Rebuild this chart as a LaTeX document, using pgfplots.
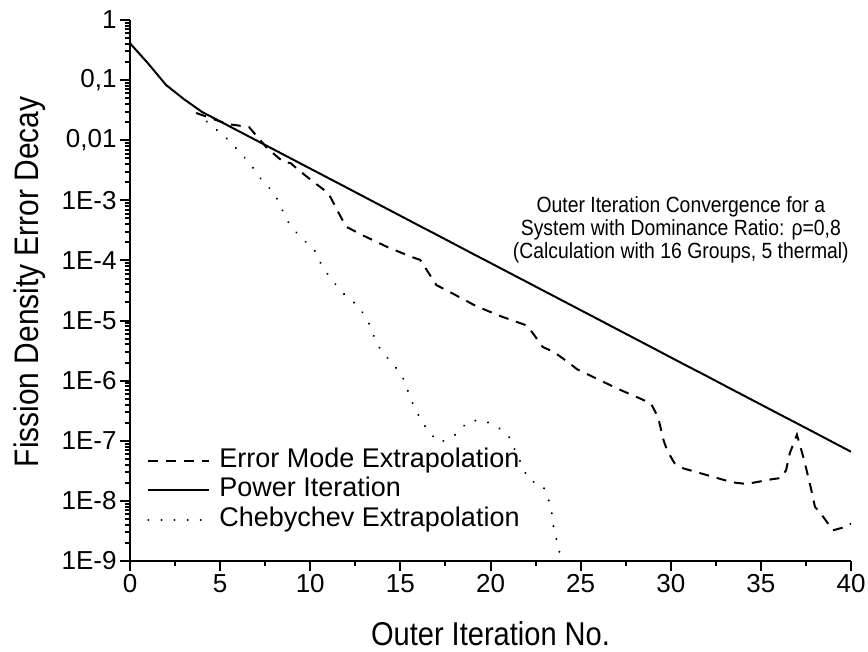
\documentclass[border=0pt]{standalone}
\usepackage{fontspec}
\setmainfont{Liberation Sans}
\newfontfamily\cond[FakeStretch=0.88]{Liberation Sans}
\usepackage{pgfplots}
\pgfplotsset{compat=1.18}
\begin{document}
\begin{tikzpicture}
\begin{axis}[
  scale only axis, width=721pt, height=541pt,
  ymode=log, log basis y=10,
  xmin=0, xmax=40, ymin=1e-9, ymax=1,
  axis x line=bottom, axis y line=left,
  axis line style={-, line width=2.6pt},
  tick align=outside,
  major tick length=10pt, minor tick length=5pt,
  every tick/.style={black, line width=2pt},
  xtick={0,5,...,40}, minor xtick={2.5,7.5,...,37.5},
  ytick={1e-9,1e-8,1e-7,1e-6,1e-5,1e-4,1e-3,1e-2,1e-1,1},
  yticklabels={1E-9,1E-8,1E-7,1E-6,1E-5,1E-4,1E-3,{0,01},{0,1},1},
  minor ytick={2e-9,3e-9,4e-9,5e-9,6e-9,7e-9,8e-9,9e-9,
   2e-8,3e-8,4e-8,5e-8,6e-8,7e-8,8e-8,9e-8,
   2e-7,3e-7,4e-7,5e-7,6e-7,7e-7,8e-7,9e-7,
   2e-6,3e-6,4e-6,5e-6,6e-6,7e-6,8e-6,9e-6,
   2e-5,3e-5,4e-5,5e-5,6e-5,7e-5,8e-5,9e-5,
   2e-4,3e-4,4e-4,5e-4,6e-4,7e-4,8e-4,9e-4,
   2e-3,3e-3,4e-3,5e-3,6e-3,7e-3,8e-3,9e-3,
   2e-2,3e-2,4e-2,5e-2,6e-2,7e-2,8e-2,9e-2,
   2e-1,3e-1,4e-1,5e-1,6e-1,7e-1,8e-1,9e-1},
  /pgf/number format/assume math mode=true,
  tick label style={font=\fontsize{26}{29}\selectfont, text=black},
  xlabel={Outer Iteration No.},
  ylabel={Fission Density Error Decay},
  xlabel style={font=\cond\fontsize{33}{36}\selectfont, at={(rel axis cs:0.5,0)}, anchor=base, yshift=-84pt},
  ylabel style={font=\cond\fontsize{34}{36}\selectfont, at={(rel axis cs:0,0.516)}, anchor=center, yshift=100pt},
  legend style={at={(rel axis cs:0.0236,0.209)}, anchor=north west, draw=none, fill=none,
    font=\fontsize{27}{29}\selectfont, row sep=4.5pt, column sep=9pt, inner sep=0pt,
    nodes={text height=19pt, text depth=6pt, inner sep=0pt}},
  legend cell align=left,
  legend image code/.code={\draw[#1] (0pt,0pt) -- (61pt,0pt);},
  clip=true,
]
\coordinate (bl) at (rel axis cs:0,0);
\coordinate (tr) at (rel axis cs:1,1);

\addplot[black, line width=2pt, dash pattern=on 10pt off 8pt] coordinates {
(3.7,0.0282) (5.4,0.0186) (6.6,0.0166) (7.6,0.00741) (8.5,0.00437) (8.9,0.00417)
(9.7,0.00263) (10.2,0.00200) (11.0,0.00132) (11.3,8.91e-4) (11.7,5.25e-4) (12.0,3.63e-4)
(12.9,2.63e-4) (14.3,1.66e-4) (15.6,1.15e-4) (16.1,1.02e-4) (16.7,5.37e-5) (17.0,3.89e-5)
(17.9,2.82e-5) (19.2,1.74e-5) (20.6,1.17e-5) (21.9,8.51e-6) (22.3,6.46e-6) (22.9,3.63e-6)
(23.5,3.02e-6) (24.3,2.04e-6) (24.8,1.55e-6) (25.7,1.15e-6) (27.1,7.24e-7) (28.4,4.90e-7)
(28.9,4.17e-7) (29.3,2.45e-7) (29.6,1.02e-7) (29.8,6.92e-8) (30.2,4.27e-8) (30.7,3.47e-8)
(32.0,2.69e-8) (33.4,2.04e-8) (34.2,1.91e-8) (35.6,2.29e-8) (36.1,2.40e-8) (36.4,3.24e-8)
(36.6,6.17e-8) (37.0,1.26e-7) (37.4,4.79e-8) (37.8,1.51e-8) (38.0,7.94e-9) (38.3,6.31e-9)
(39.0,3.24e-9) (39.6,3.63e-9) (40.0,4.17e-9)
};
\addlegendentry{Error Mode Extrapolation}

\addplot[black, line width=2pt] coordinates {
(0,0.41) (1,0.19) (2,0.083) (3,0.048) (4,0.0295) (5,0.0206) (6,0.0143) (7,0.00998)
(8,0.00695) (9,0.00484) (10,0.00337) (11,0.00235) (12,0.00164) (13,0.00114) (14,7.94e-4)
(15,5.53e-4) (16,3.85e-4) (17,2.69e-4) (18,1.87e-4) (19,1.30e-4) (20,9.08e-5) (21,6.32e-5)
(22,4.41e-5) (23,3.07e-5) (24,2.14e-5) (25,1.49e-5) (26,1.04e-5) (27,7.23e-6) (28,5.04e-6)
(29,3.51e-6) (30,2.44e-6) (31,1.70e-6) (32,1.19e-6) (33,8.26e-7) (34,5.75e-7) (35,4.01e-7)
(36,2.79e-7) (37,1.95e-7) (38,1.36e-7) (39,9.44e-8) (40,6.58e-8)
};
\addlegendentry{Power Iteration}

\addplot[black, line width=2.2pt, line cap=round, dash pattern=on 0.1pt off 13pt] coordinates {
(3.7,0.0282) (4.5,0.0178) (5.3,0.0112) (6.1,0.00631) (6.7,0.00389) (7.3,0.00219)
(8.0,0.00132) (8.4,7.41e-4) (8.8,4.27e-4) (9.4,2.51e-4) (10.2,1.55e-4) (10.6,8.71e-5)
(11.1,5.13e-5) (11.8,2.88e-5) (12.7,1.70e-5) (13.2,9.77e-6) (13.5,5.75e-6) (13.9,3.24e-6)
(14.5,2.04e-6) (15.1,1.20e-6) (15.4,6.92e-7) (15.7,4.07e-7) (16.1,2.34e-7) (16.6,1.35e-7)
(17.2,9.33e-8) (18.0,1.23e-7) (18.8,2.14e-7) (19.6,2.19e-7) (20.4,1.70e-7) (21.1,1.10e-7)
(21.4,6.46e-8) (21.8,3.63e-8) (22.1,2.24e-8) (22.9,1.82e-8) (23.2,1.12e-8) (23.4,6.31e-9)
(23.5,3.63e-9) (23.7,2.04e-9) (23.9,1.12e-9)
};
\addlegendentry{Chebychev Extrapolation}

\node[align=center, font=\cond\fontsize{22}{23}\selectfont, inner sep=0pt] at (rel axis cs:0.764,0.612)
  {Outer Iteration Convergence for a\\System with Dominance Ratio: ρ=0,8\\(Calculation with 16 Groups, 5 thermal)};
\end{axis}
\pgfresetboundingbox
\path ([xshift=-130pt,yshift=-91pt]bl) rectangle ([xshift=17pt,yshift=20pt]tr);
\end{tikzpicture}
\end{document}
